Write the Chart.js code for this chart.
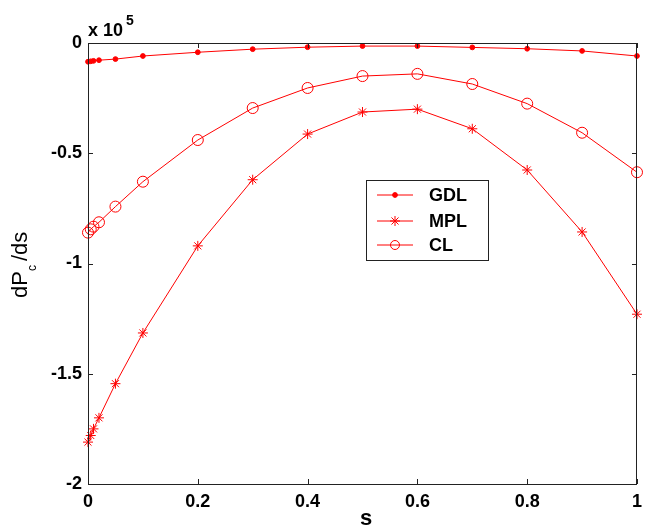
<!DOCTYPE html>
<html>
<head>
<meta charset="utf-8">
<script src="https://cdn.jsdelivr.net/npm/chart.js@4/dist/chart.umd.min.js"></script>
<style>
    html, body { margin: 0; padding: 0; background: #fff; }
    #wrap { width: 649px; height: 527px; position: relative; }
</style>
</head>
<body>
<div id="wrap"><canvas id="chart" width="649" height="527"></canvas></div>
<script>
// Données (valeurs en x 10^5)
const sValues = [0, 0.005, 0.01, 0.02, 0.05, 0.1, 0.2, 0.3, 0.4, 0.5, 0.6, 0.7, 0.8, 0.9, 1.0];
const gdlValues = [-0.085, -0.083, -0.081, -0.078, -0.073, -0.059, -0.042, -0.028, -0.019, -0.014, -0.014, -0.02, -0.026, -0.036, -0.059];
const mplValues = [-1.81, -1.78, -1.75, -1.70, -1.545, -1.315, -0.92, -0.62, -0.413, -0.313, -0.30, -0.389, -0.576, -0.857, -1.23];
const clValues = [-0.86, -0.845, -0.833, -0.813, -0.742, -0.629, -0.44, -0.295, -0.204, -0.15, -0.14, -0.186, -0.275, -0.407, -0.586];

const seriesNames = ['GDL', 'MPL', 'CL'];
const xTicks = [0, 0.2, 0.4, 0.6, 0.8, 1];
const xTickLabels = ['0', '0.2', '0.4', '0.6', '0.8', '1'];
const yTicks = [0, -0.5, -1, -1.5, -2];
const yTickLabels = ['0', '-0.5', '-1', '-1.5', '-2'];

const RED = '#ff0000';
const AXIS = '#222';
const FONT = '"Liberation Sans", Arial, sans-serif';

function toPoints(values) {
    return sValues.map((s, i) => ({ x: s, y: values[i] }));
}

const markerStyles = [
    { pointStyle: 'circle', radius: 2.4, fill: RED },
    { pointStyle: 'star', radius: 5, fill: RED },
    { pointStyle: 'circle', radius: 5.5, fill: 'rgba(0,0,0,0)' }
];

// Cadre, graduations internes, légende et titres
const decorPlugin = {
    id: 'decor',
    afterDraw(chart) {
        const ctx = chart.ctx;
        const area = chart.chartArea;
        const xs = chart.scales.x;
        const ys = chart.scales.y;
        const tick = 5;

        ctx.save();
        ctx.strokeStyle = AXIS;
        ctx.lineWidth = 1;
        ctx.strokeRect(area.left + 0.5, area.top + 0.5, area.right - area.left - 1, area.bottom - area.top);

        ctx.beginPath();
        xTicks.forEach(v => {
            const px = Math.round(xs.getPixelForValue(v)) + 0.5;
            ctx.moveTo(px, area.bottom);
            ctx.lineTo(px, area.bottom - tick);
            ctx.moveTo(px, area.top);
            ctx.lineTo(px, area.top + tick);
        });
        yTicks.forEach(v => {
            const py = Math.round(ys.getPixelForValue(v)) + 0.5;
            ctx.moveTo(area.left, py);
            ctx.lineTo(area.left + tick, py);
            ctx.moveTo(area.right, py);
            ctx.lineTo(area.right - tick, py);
        });
        ctx.stroke();

        // Multiplicateur x 10^5
        ctx.fillStyle = '#000';
        ctx.textBaseline = 'alphabetic';
        ctx.textAlign = 'left';
        ctx.font = 'bold 18px ' + FONT;
        ctx.fillText('x 10', area.left, 36);
        ctx.font = 'bold 14px ' + FONT;
        ctx.fillText('5', area.left + 38, 25);

        // Titre axe Y : dP_c /ds
        ctx.save();
        ctx.translate(27, 263);
        ctx.rotate(-Math.PI / 2);
        ctx.font = '22px ' + FONT;
        const w1 = ctx.measureText('dP').width;
        const start = -35;
        ctx.fillText('dP', start, 0);
        ctx.font = '12px ' + FONT;
        ctx.fillText('c', start + w1, 9);
        ctx.font = '22px ' + FONT;
        ctx.fillText('/ds', start + w1 + 10, 0);
        ctx.restore();

        // Titre axe X
        ctx.font = 'bold 22px ' + FONT;
        ctx.textAlign = 'center';
        ctx.textBaseline = 'alphabetic';
        ctx.fillText('s', 366, 525);

        // Légende
        const box = { left: 366, top: 180, right: 488, bottom: 260 };
        ctx.fillStyle = '#fff';
        ctx.fillRect(box.left, box.top, box.right - box.left, box.bottom - box.top);
        ctx.strokeStyle = AXIS;
        ctx.strokeRect(box.left + 0.5, box.top + 0.5, box.right - box.left, box.bottom - box.top);
        const rows = [195, 221, 245];
        seriesNames.forEach((name, i) => {
            const y = rows[i];
            ctx.strokeStyle = RED;
            ctx.lineWidth = 1;
            ctx.beginPath();
            ctx.moveTo(377, y);
            ctx.lineTo(413, y);
            ctx.stroke();
            const m = markerStyles[i];
            ctx.fillStyle = m.fill;
            Chart.helpers.drawPoint(ctx, {
                pointStyle: m.pointStyle,
                radius: i === 2 ? 4.5 : m.radius,
                rotation: 0,
                borderWidth: 1
            }, 395, y);
            ctx.fillStyle = '#000';
            ctx.font = 'bold 18px ' + FONT;
            ctx.textAlign = 'left';
            ctx.textBaseline = 'middle';
            ctx.fillText(name, 429, y + 1);
        });
        ctx.restore();
    }
};

const datasets = [gdlValues, mplValues, clValues].map((vals, i) => ({
    label: seriesNames[i],
    data: toPoints(vals),
    borderColor: RED,
    borderWidth: 1,
    backgroundColor: markerStyles[i].fill,
    pointStyle: markerStyles[i].pointStyle,
    pointRadius: markerStyles[i].radius,
    pointBorderColor: RED,
    pointBackgroundColor: markerStyles[i].fill,
    pointBorderWidth: 1,
    tension: 0,
    clip: false
}));

new Chart(document.getElementById('chart'), {
    type: 'line',
    data: { datasets: datasets },
    options: {
        responsive: false,
        animation: false,
        layout: { padding: { top: 43, right: 5, left: 0, bottom: 0 } },
        plugins: { legend: { display: false }, tooltip: { enabled: false } },
        scales: {
            x: {
                type: 'linear',
                min: 0,
                max: 1,
                afterBuildTicks: scale => { scale.ticks = xTicks.map(v => ({ value: v })); },
                afterFit: scale => { scale.height = 43; },
                grid: { display: false, drawTicks: false },
                border: { display: false },
                ticks: {
                    padding: 7,
                    color: '#000',
                    maxRotation: 0,
                    font: { family: FONT, size: 18, weight: 'bold' },
                    callback: (v, i) => xTickLabels[i]
                }
            },
            y: {
                type: 'linear',
                min: -2,
                max: 0,
                afterBuildTicks: scale => { scale.ticks = yTicks.map(v => ({ value: v })); },
                afterFit: scale => { scale.width = 88; },
                grid: { display: false, drawTicks: false },
                border: { display: false },
                ticks: {
                    padding: 6,
                    color: '#000',
                    font: { family: FONT, size: 18, weight: 'bold' },
                    callback: (v, i) => yTickLabels[i]
                }
            }
        }
    },
    plugins: [decorPlugin]
});
</script>
</body>
</html>
